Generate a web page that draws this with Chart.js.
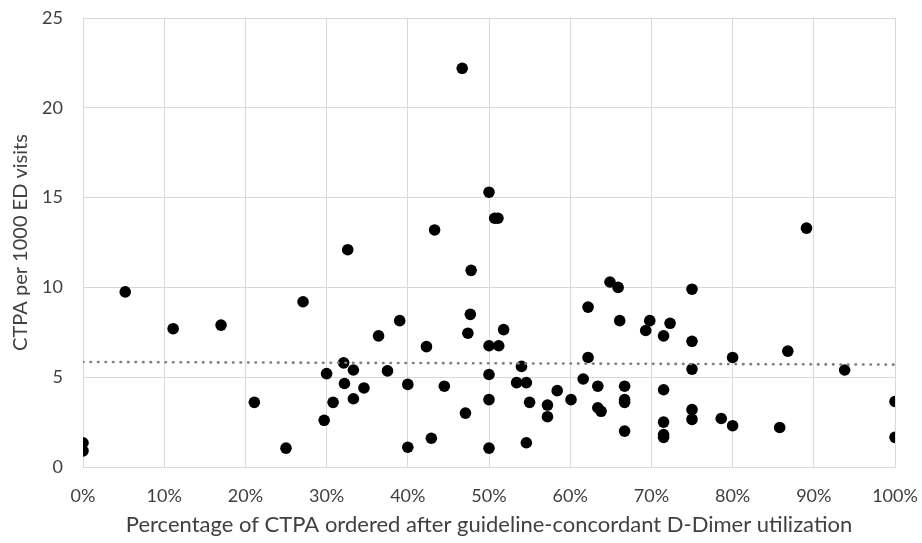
<!DOCTYPE html>
<html lang="en">
<head>
  <meta charset="UTF-8">
  <title>CTPA per 1000 ED visits vs guideline-concordant D-Dimer utilization</title>
  <script src="https://cdn.jsdelivr.net/npm/chart.js@4.4.0/dist/chart.umd.min.js"></script>
  <style>
    body { margin: 0; background: #ffffff; }
    #wrap { width: 922px; height: 543px; }
  </style>
</head>
<body>
  <div id="wrap"><canvas id="chart" width="922" height="543"></canvas></div>

  <script>
    // percentage of CTPA ordered after guideline-concordant D-Dimer (x) and CTPA per 1000 ED visits (y)
    const pctConcordant = [
      0, 0, 5.2, 11.1, 17.0, 21.1, 25.0, 27.1, 29.7, 30.0,
      30.8, 32.1, 32.2, 32.6, 33.3, 33.3, 34.6, 36.4, 37.5, 39.0,
      40.0, 40.0, 42.3, 42.9, 43.3, 44.5, 46.7, 47.1, 47.4, 47.7,
      47.8, 50.0, 50.7, 51.1, 50.0, 51.2, 51.8, 50.0, 50.0, 50.0,
      53.4, 54.0, 54.6, 55.0, 54.6, 57.2, 57.2, 58.4, 60.1, 61.6,
      62.2, 62.2, 63.4, 63.4, 63.8, 64.9, 65.9, 66.1, 66.7, 66.7,
      66.7, 66.7, 69.3, 69.8, 71.5, 72.3, 71.5, 71.5, 71.5, 71.5,
      75.0, 75.0, 75.0, 75.0, 75.0, 78.6, 80.0, 80.0, 85.8, 86.8,
      89.1, 93.8, 100, 100
    ];
    const ctpaRate = [
      1.35, 0.9, 9.75, 7.7, 7.9, 3.6, 1.05, 9.2, 2.6, 5.2,
      3.6, 5.8, 4.65, 12.1, 5.4, 3.8, 4.4, 7.3, 5.35, 8.15,
      4.6, 1.1, 6.7, 1.6, 13.2, 4.5, 22.2, 3.0, 7.45, 8.5,
      10.95, 15.3, 13.85, 13.85, 6.75, 6.75, 7.65, 5.15, 3.75, 1.05,
      4.7, 5.6, 4.7, 3.6, 1.35, 3.45, 2.8, 4.25, 3.75, 4.9,
      6.1, 8.9, 4.5, 3.3, 3.1, 10.3, 10.0, 8.15, 4.5, 3.75,
      3.6, 2.0, 7.6, 8.15, 7.3, 8.0, 4.3, 2.5, 1.8, 1.65,
      9.9, 7.0, 5.45, 3.2, 2.65, 2.7, 6.1, 2.3, 2.2, 6.45,
      13.3, 5.4, 3.65, 1.65
    ];

    // linear trendline ends
    const trendX = [0, 100];
    const trendY = [5.85, 5.7];

    const xTitle = 'Percentage of CTPA ordered after guideline-concordant D-Dimer utilization';
    const yTitle = 'CTPA per 1000 ED visits';

    const points = pctConcordant.map((x, i) => ({ x: x, y: ctpaRate[i] }));
    const trend = trendX.map((x, i) => ({ x: x, y: trendY[i] }));

    const fontFamily = 'Lato, "Open Sans", sans-serif';
    const textColor = '#404040';
    const gridColor = '#d9d9d9';

    new Chart(document.getElementById('chart').getContext('2d'), {
      type: 'scatter',
      data: {
        datasets: [
          {
            type: 'line',
            label: 'Trend',
            data: trend,
            order: 0,
            borderColor: '#808080',
            borderWidth: 2.6,
            borderDash: [0.5, 7],
            borderCapStyle: 'round',
            pointRadius: 0,
            fill: false
          },
          {
            label: 'Sites',
            data: points,
            order: 1,
            backgroundColor: '#000000',
            borderWidth: 0,
            pointRadius: 5.8,
            pointHoverRadius: 5.8
          }
        ]
      },
      options: {
        responsive: false,
        animation: false,
        layout: { padding: { left: 0, right: 27, top: 18, bottom: 0 } },
        plugins: {
          legend: { display: false },
          tooltip: { enabled: false }
        },
        scales: {
          x: {
            type: 'linear',
            min: 0,
            max: 100,
            afterFit: scale => {
              // fixed axis band, no extra room for the end labels
              scale.height = 76;
              scale.paddingLeft = 0;
              scale.paddingRight = 0;
            },
            ticks: {
              stepSize: 10,
              padding: 18,
              color: textColor,
              font: { family: fontFamily, size: 18 },
              callback: v => v + '%'
            },
            grid: { color: gridColor, lineWidth: 1, drawTicks: false },
            border: { color: gridColor, width: 1 },
            title: {
              display: true,
              text: xTitle,
              color: textColor,
              font: { family: fontFamily, size: 22 },
              padding: { top: 0, bottom: 5 }
            }
          },
          y: {
            min: 0,
            max: 25,
            afterFit: scale => {
              scale.width = 83;
              scale.paddingTop = 0;
              scale.paddingBottom = 0;
            },
            ticks: {
              stepSize: 5,
              padding: 20,
              color: textColor,
              font: { family: fontFamily, size: 18 }
            },
            grid: { color: gridColor, lineWidth: 1, drawTicks: false },
            border: { color: gridColor, width: 1 },
            title: {
              display: true,
              text: yTitle,
              color: textColor,
              font: { family: fontFamily, size: 20 },
              padding: { top: 9, bottom: 0 }
            }
          }
        }
      }
    });
  </script>
</body>
</html>
